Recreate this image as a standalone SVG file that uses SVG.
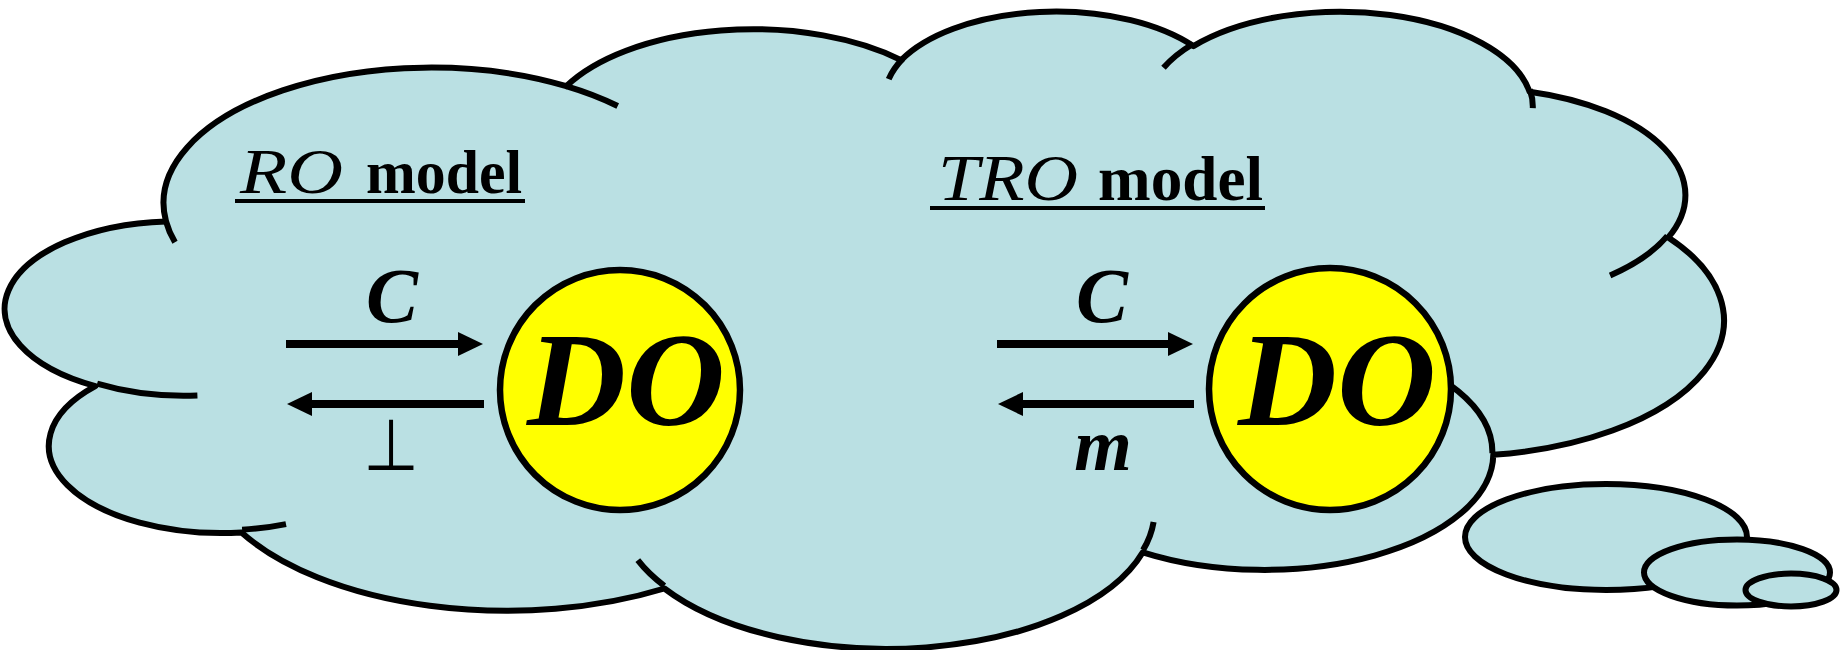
<svg xmlns="http://www.w3.org/2000/svg" width="1842" height="650" viewBox="0 0 1842 650">
<style>
.cloud{fill:#BAE0E3;stroke:#000;stroke-width:6;stroke-linejoin:round}
.stub{fill:none;stroke:#000;stroke-width:6}
.do{fill:#FFFF00;stroke:#000;stroke-width:6.5}
.conn{stroke:#000;stroke-width:8;fill:none}
.it{font-family:"Liberation Serif","Times New Roman",serif;font-style:italic}
.bd{font-family:"Liberation Serif","Times New Roman",serif;font-weight:bold}
.bi{font-family:"Liberation Serif","Times New Roman",serif;font-weight:bold;font-style:italic}
.ul{stroke:#000;stroke-width:4}
</style>
<defs>
<marker id="ah" markerUnits="userSpaceOnUse" markerWidth="26" markerHeight="24" refX="2" refY="12" orient="auto"><path d="M0,0 L25,12 L0,24 z" fill="#000"/></marker>
</defs>
<g id="cloud">
<path class="cloud" d="M166.0,221.4 A267.5,135.5 0 0 1 566.3,86.2 A211.3,107.2 0 0 1 901.2,60.1 A172.9,87.7 0 0 1 1193.4,46.1 A192.4,97.2 0 0 1 1529.6,91.7 A211.3,107.2 0 0 1 1668.3,237.4 A268.4,135.9 0 0 1 1493.3,454.8 A229.2,116.0 0 0 1 1142.8,552.3 A267.5,135.9 0 0 1 664.4,588.5 A305.9,155.5 0 0 1 241.5,532.5 A172.7,87.3 0 0 1 95.3,386.2 A172.1,87.7 0 0 1 166.0,221.4 Z"/>
<path class="stub" d="M197.4,395.5 A172.1,87.7 0 0 1 97.1,383.7 M286.0,524.1 A172.7,87.3 0 0 1 242.1,529.7 M664.3,585.9 A267.5,135.9 0 0 1 637.8,560.2 M1153.6,521.9 A267.5,135.9 0 0 1 1143.0,550.1 M1363.6,348.0 A229.2,116.0 0 0 1 1492.4,453.2 M1667.4,235.9 A211.3,107.2 0 0 1 1610.1,275.4 M1529.8,89.5 A192.4,97.2 0 0 1 1532.8,108.1 M1163.5,67.8 A192.4,97.2 0 0 1 1192.9,44.0 M888.7,79.1 A172.9,87.7 0 0 1 902.9,58.6 M566.1,86.1 A267.5,135.5 0 0 1 617.7,106.0 M175.0,242.3 A267.5,135.5 0 0 1 166.0,221.4"/>
<ellipse class="cloud" cx="1606" cy="537" rx="141" ry="53"/>
<ellipse class="cloud" cx="1737" cy="572.5" rx="93" ry="33"/>
<ellipse class="cloud" cx="1791" cy="590" rx="45.5" ry="16.5"/>
</g>
<g id="label-ro">
<text y="193" font-size="64"><tspan class="it" x="240" textLength="103" lengthAdjust="spacingAndGlyphs">RO</tspan> <tspan class="bd" x="366" font-size="61" textLength="156" lengthAdjust="spacingAndGlyphs">model</tspan></text>
<line class="ul" x1="235" y1="201" x2="525" y2="201"/>
</g>
<g id="label-tro">
<text y="200" font-size="66"><tspan class="it" x="938" textLength="140" lengthAdjust="spacingAndGlyphs">TRO</tspan> <tspan class="bd" x="1098" font-size="64" textLength="165" lengthAdjust="spacingAndGlyphs">model</tspan></text>
<line class="ul" x1="930" y1="208" x2="1265" y2="208"/>
</g>
<g id="do-left">
<circle class="do" cx="620" cy="390" r="120"/>
<text class="bi" x="626" y="425" font-size="134" text-anchor="middle" textLength="198" lengthAdjust="spacingAndGlyphs">DO</text>
</g>
<g id="do-right">
<circle class="do" cx="1330" cy="389" r="121"/>
<text class="bi" x="1337" y="425" font-size="134" text-anchor="middle" textLength="198" lengthAdjust="spacingAndGlyphs">DO</text>
</g>
<g id="connectors">
<line class="conn" x1="286" y1="344" x2="460" y2="344" marker-end="url(#ah)"/>
<line class="conn" x1="484" y1="404" x2="310" y2="404" marker-end="url(#ah)"/>
<line class="conn" x1="997" y1="344" x2="1170" y2="344" marker-end="url(#ah)"/>
<line class="conn" x1="1194" y1="404" x2="1021" y2="404" marker-end="url(#ah)"/>
<text class="bi" x="392" y="322" font-size="78" text-anchor="middle">C</text>
<text x="0" y="0" font-size="64" text-anchor="middle" font-family="DejaVu Sans, sans-serif" transform="translate(391,470) scale(1,1.12)">⊥</text>
<text class="bi" x="1102" y="322" font-size="78" text-anchor="middle">C</text>
<text class="bi" x="1103" y="470" font-size="74" text-anchor="middle">m</text>
</g>
</svg>
